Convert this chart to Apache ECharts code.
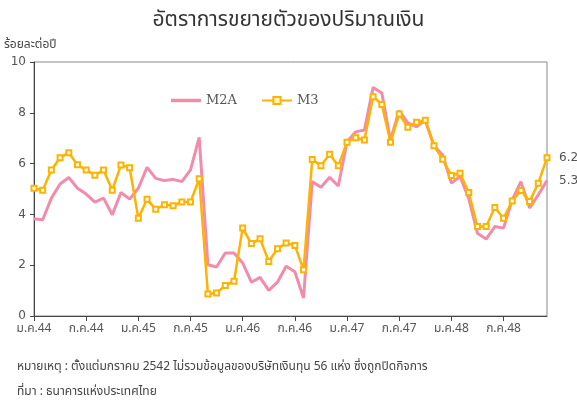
<!DOCTYPE html>
<html>
<head>
    <meta charset="UTF-8">
    <title>อัตราการขยายตัวของปริมาณเงิน</title>
    <style>
        html, body{
            margin:0;
            padding:0;
            background:#fff;
        }
        #main{
            width:577px;
            height:400px;
        }
    </style>
    <script src="https://cdn.jsdelivr.net/npm/echarts@6/dist/echarts.min.js"></script>
</head>
<body>
    <div id="main"></div>
    <script>
    // ชื่อเดือน / ปี สำหรับแกน x (ม.ค.44 - ธ.ค.48)
    var months = ['ม.ค.', 'ก.พ.', 'มี.ค.', 'เม.ย.', 'พ.ค.', 'มิ.ย.', 'ก.ค.', 'ส.ค.', 'ก.ย.', 'ต.ค.', 'พ.ย.', 'ธ.ค.'];
    var years = ['44', '45', '46', '47', '48'];
    var yTicks = [0, 2, 4, 6, 8, 10];

    // ร้อยละต่อปี
    var m2a = [3.83, 3.79, 4.64, 5.20, 5.45, 5.03, 4.80, 4.48, 4.64, 3.98, 4.86, 4.60,
               5.03, 5.85, 5.42, 5.33, 5.38, 5.29, 5.75, 7.03, 2.02, 1.93, 2.48, 2.48,
               2.09, 1.33, 1.52, 1.01, 1.33, 1.96, 1.74, 0.71, 5.29, 5.07, 5.46, 5.12,
               6.86, 7.25, 7.32, 9.00, 8.78, 6.93, 8.08, 7.60, 7.45, 7.71, 6.70, 6.34,
               5.23, 5.49, 4.62, 3.26, 3.03, 3.52, 3.46, 4.57, 5.29, 4.25, 4.77, 5.33];
    var m3 = [5.03, 4.95, 5.75, 6.23, 6.43, 5.95, 5.75, 5.54, 5.75, 4.95, 5.94, 5.84,
              3.85, 4.60, 4.20, 4.38, 4.34, 4.49, 4.49, 5.40, 0.87, 0.91, 1.20, 1.37,
              3.46, 2.85, 3.04, 2.15, 2.65, 2.87, 2.78, 1.82, 6.16, 5.92, 6.37, 5.92,
              6.84, 7.02, 6.93, 8.63, 8.33, 6.84, 7.95, 7.43, 7.63, 7.71, 6.70, 6.17,
              5.53, 5.62, 4.86, 3.52, 3.52, 4.27, 3.85, 4.53, 4.94, 4.51, 5.23, 6.23];

    var categories = [];
    for (var y = 0; y < years.length; y++) {
        for (var m = 0; m < months.length; m++) {
            categories.push(months[m] + years[y]);
        }
    }

    var thaiFont = '"Noto Sans Thai", "Noto Sans Thai UI", Loma, Garuda, "DejaVu Sans", sans-serif';

    var chart = echarts.init(document.getElementById('main'), null, {renderer: 'canvas'});
    var option = {
        animation: false,
        title: {
            text: 'อัตราการขยายตัวของปริมาณเงิน',
            left: 'center',
            top: 6,
            textStyle: {
                fontFamily: thaiFont,
                fontSize: 21,
                fontWeight: 'normal',
                color: '#333'
            }
        },
        legend: {
            left: 166,
            top: 89,
            itemWidth: 30,
            itemHeight: 9,
            itemGap: 24,
            textStyle: {
                fontFamily: '"DejaVu Serif", serif',
                fontSize: 13,
                color: '#555',
                padding: [0, 0, 0, 0]
            },
            data: [
                {name: 'M2A', icon: 'path://M0,0 L30,0 L30,3.5 L0,3.5 Z'},
                {name: 'M3', itemStyle: {color: '#FFF3B5', borderColor: '#FFB300', borderWidth: 2}}
            ]
        },
        grid: {
            left: 34,
            right: 30,
            top: 62,
            bottom: 84,
            show: true,
            borderColor: '#888',
            borderWidth: 1
        },
        xAxis: {
            type: 'category',
            data: categories,
            boundaryGap: false,
            axisLine: {lineStyle: {color: '#444'}},
            axisTick: {interval: 5, length: 5, lineStyle: {color: '#444'}},
            axisLabel: {
                interval: 5,
                margin: 8,
                fontFamily: thaiFont,
                fontSize: 12,
                color: '#555'
            },
            splitLine: {show: false}
        },
        yAxis: {
            type: 'value',
            min: yTicks[0],
            max: yTicks[yTicks.length - 1],
            interval: 2,
            name: 'ร้อยละต่อปี',
            nameLocation: 'end',
            nameGap: 10,
            nameTextStyle: {
                fontFamily: thaiFont,
                fontSize: 12,
                color: '#444',
                align: 'left',
                padding: [0, 0, 0, -30]
            },
            axisLine: {show: true, lineStyle: {color: '#444'}},
            axisTick: {show: true, length: 4, lineStyle: {color: '#444'}},
            axisLabel: {
                margin: 8,
                fontFamily: '"DejaVu Sans", sans-serif',
                fontSize: 12,
                color: '#555'
            },
            splitLine: {show: false}
        },
        series: [
            {
                name: 'M2A',
                type: 'line',
                data: m2a,
                symbol: 'none',
                showSymbol: false,
                lineStyle: {color: '#F28CAA', width: 3},
                itemStyle: {color: '#F28CAA'},
                endLabel: {
                    show: true,
                    distance: 12,
                    fontFamily: '"DejaVu Sans", sans-serif',
                    fontSize: 12,
                    color: '#555',
                    formatter: function (p) { return p.value.toFixed(1); }
                },
                z: 2
            },
            {
                name: 'M3',
                type: 'line',
                data: m3,
                symbol: 'rect',
                symbolSize: 5,
                showAllSymbol: true,
                lineStyle: {color: '#FFB300', width: 2.5},
                itemStyle: {color: '#fff', borderColor: '#FFB300', borderWidth: 2},
                endLabel: {
                    show: true,
                    distance: 12,
                    fontFamily: '"DejaVu Sans", sans-serif',
                    fontSize: 12,
                    color: '#555',
                    formatter: function (p) { return p.value.toFixed(1); }
                },
                z: 3
            }
        ],
        graphic: [
            {
                type: 'text',
                left: 17,
                top: 362,
                style: {
                    text: 'หมายเหตุ : ตั้งแต่มกราคม 2542 ไม่รวมข้อมูลของบริษัทเงินทุน 56 แห่ง ซึ่งถูกปิดกิจการ',
                    font: '12px ' + thaiFont,
                    fill: '#444'
                }
            },
            {
                type: 'text',
                left: 17,
                top: 387,
                style: {
                    text: 'ที่มา : ธนาคารแห่งประเทศไทย',
                    font: '12px ' + thaiFont,
                    fill: '#444'
                }
            }
        ]
    };
    chart.setOption(option);
    </script>
</body>
</html>
